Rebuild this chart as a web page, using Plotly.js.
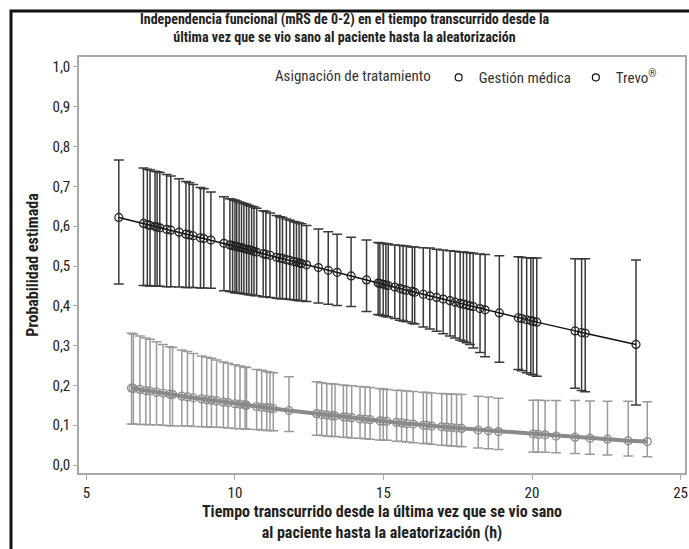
<!DOCTYPE html>
<html>
<head>
<meta charset="utf-8">
<script src="https://cdn.plot.ly/plotly-3.0.1.min.js"></script>
<style>
  html, body { margin: 0; padding: 0; background: #fff; }
  #chart { width: 689px; height: 549px; }
</style>
</head>
<body>
<div id="chart"></div>
<script>
// ---- Data ----
// Trevo (upper, black)
const trevoX = [6.09, 6.92, 7.05, 7.14, 7.31, 7.38, 7.47, 7.70, 7.84, 8.12, 8.35, 8.46, 8.59, 8.84, 8.95, 9.19, 9.63, 9.83, 9.92, 10.0,
  10.06, 10.14, 10.22, 10.30, 10.39, 10.47, 10.56, 10.64, 10.73, 10.95, 11.04, 11.18, 11.40, 11.51, 11.60, 11.73, 11.85, 11.98, 12.07, 12.16,
  12.24, 12.41, 12.81, 13.14, 13.44, 13.91, 14.43, 14.82, 14.88, 14.99, 15.08, 15.16, 15.38, 15.55, 15.66, 15.77, 15.97, 16.05, 16.34, 16.56,
  16.79, 17.01, 17.24, 17.41, 17.58, 17.69, 17.80, 17.91, 18.02, 18.25, 18.42, 18.90, 19.54, 19.65, 19.82, 19.96, 20.04, 20.16, 21.45, 21.67,
  21.79, 23.50];
const trevoY = [0.622, 0.607, 0.604, 0.602, 0.599, 0.598, 0.596, 0.592, 0.590, 0.585, 0.580, 0.578, 0.576, 0.571, 0.569, 0.565, 0.557, 0.553, 0.551, 0.550,
  0.549, 0.547, 0.546, 0.544, 0.542, 0.541, 0.539, 0.537, 0.535, 0.531, 0.529, 0.527, 0.522, 0.520, 0.519, 0.516, 0.514, 0.511, 0.510, 0.508,
  0.506, 0.503, 0.496, 0.489, 0.484, 0.475, 0.465, 0.457, 0.456, 0.454, 0.452, 0.451, 0.447, 0.444, 0.441, 0.439, 0.436, 0.434, 0.429, 0.425,
  0.421, 0.417, 0.413, 0.409, 0.406, 0.404, 0.402, 0.400, 0.398, 0.393, 0.390, 0.382, 0.370, 0.368, 0.365, 0.363, 0.361, 0.359, 0.337, 0.333,
  0.331, 0.303];
const trevoHi = [0.766, 0.746, 0.743, 0.741, 0.738, 0.737, 0.735, 0.730, 0.726, 0.719, 0.712, 0.709, 0.705, 0.697, 0.694, 0.686, 0.674, 0.669, 0.667, 0.665,
  0.663, 0.661, 0.659, 0.657, 0.655, 0.652, 0.650, 0.648, 0.645, 0.639, 0.637, 0.633, 0.627, 0.624, 0.622, 0.618, 0.615, 0.612, 0.610, 0.608,
  0.606, 0.602, 0.593, 0.586, 0.580, 0.572, 0.565, 0.559, 0.558, 0.557, 0.556, 0.555, 0.553, 0.552, 0.551, 0.550, 0.548, 0.548, 0.546, 0.545,
  0.542, 0.540, 0.538, 0.537, 0.535, 0.535, 0.534, 0.533, 0.532, 0.530, 0.529, 0.526, 0.523, 0.522, 0.521, 0.520, 0.520, 0.520, 0.518, 0.518,
  0.518, 0.515];
const trevoLo = [0.455, 0.451, 0.451, 0.450, 0.450, 0.449, 0.449, 0.448, 0.448, 0.447, 0.446, 0.446, 0.446, 0.445, 0.445, 0.444, 0.438, 0.436, 0.435, 0.433,
  0.433, 0.432, 0.431, 0.430, 0.429, 0.428, 0.427, 0.426, 0.425, 0.423, 0.423, 0.421, 0.419, 0.418, 0.418, 0.417, 0.416, 0.415, 0.414, 0.413,
  0.413, 0.411, 0.407, 0.404, 0.401, 0.398, 0.386, 0.378, 0.377, 0.375, 0.373, 0.372, 0.368, 0.364, 0.362, 0.360, 0.356, 0.354, 0.347, 0.342,
  0.336, 0.330, 0.324, 0.319, 0.314, 0.311, 0.307, 0.303, 0.294, 0.283, 0.272, 0.258, 0.240, 0.237, 0.232, 0.228, 0.226, 0.223, 0.193, 0.187,
  0.184, 0.151];

// Gestión médica (lower, gray)
const medX = [6.52, 6.58, 6.80, 7.00, 7.14, 7.36, 7.58, 7.81, 7.90, 8.21, 8.40, 8.60, 8.88, 9.05, 9.21, 9.38, 9.61, 9.77, 10.0, 10.17,
  10.34, 10.39, 10.73, 10.90, 11.07, 11.18, 11.29, 11.82, 12.75, 12.92, 13.09, 13.26, 13.37, 13.65, 13.76, 13.93, 14.21, 14.38, 14.55, 14.88,
  14.99, 15.11, 15.44, 15.61, 15.78, 16.00, 16.34, 16.45, 16.62, 16.96, 17.13, 17.29, 17.46, 17.63, 18.19, 18.53, 18.87, 20.04, 20.21, 20.44,
  20.81, 21.45, 21.95, 22.54, 23.24, 23.88];
const medY = [0.193, 0.192, 0.190, 0.187, 0.186, 0.183, 0.181, 0.178, 0.177, 0.173, 0.171, 0.169, 0.166, 0.164, 0.163, 0.161, 0.158, 0.157, 0.154, 0.153,
  0.151, 0.150, 0.147, 0.145, 0.144, 0.143, 0.142, 0.137, 0.129, 0.127, 0.126, 0.124, 0.123, 0.121, 0.120, 0.119, 0.116, 0.115, 0.114, 0.111,
  0.110, 0.110, 0.107, 0.106, 0.104, 0.103, 0.100, 0.100, 0.098, 0.096, 0.095, 0.094, 0.093, 0.092, 0.088, 0.086, 0.084, 0.078, 0.077, 0.076,
  0.073, 0.070, 0.067, 0.065, 0.061, 0.059];
const medHi = [0.331, 0.329, 0.324, 0.319, 0.316, 0.310, 0.303, 0.297, 0.295, 0.289, 0.285, 0.280, 0.274, 0.271, 0.268, 0.264, 0.259, 0.256, 0.252, 0.249,
  0.246, 0.245, 0.240, 0.238, 0.235, 0.233, 0.232, 0.222, 0.209, 0.207, 0.205, 0.204, 0.203, 0.201, 0.200, 0.199, 0.197, 0.196, 0.195, 0.192,
  0.191, 0.190, 0.188, 0.187, 0.186, 0.185, 0.183, 0.182, 0.181, 0.180, 0.179, 0.178, 0.178, 0.177, 0.173, 0.171, 0.168, 0.163, 0.163, 0.162,
  0.162, 0.162, 0.161, 0.160, 0.160, 0.159];
const medLo = [0.103, 0.103, 0.102, 0.102, 0.101, 0.101, 0.100, 0.099, 0.099, 0.098, 0.098, 0.097, 0.096, 0.096, 0.095, 0.095, 0.094, 0.093, 0.092, 0.091,
  0.091, 0.090, 0.089, 0.088, 0.087, 0.087, 0.086, 0.084, 0.075, 0.074, 0.073, 0.072, 0.072, 0.070, 0.069, 0.068, 0.067, 0.066, 0.065, 0.063,
  0.062, 0.062, 0.060, 0.059, 0.058, 0.056, 0.054, 0.054, 0.052, 0.050, 0.049, 0.048, 0.047, 0.046, 0.043, 0.041, 0.039, 0.033, 0.032, 0.032,
  0.031, 0.029, 0.027, 0.025, 0.023, 0.021];

const xTicks = [5, 10, 15, 20, 25];
const seriesNames = ['Gestión médica', 'Trevo<sup>®</sup>'];
const legendTitle = 'Asignación de tratamiento';
const chartTitle = 'Independencia funcional (mRS de 0-2) en el tiempo transcurrido desde la<br>última vez que se vio sano al paciente hasta la aleatorización';
const xTitle = 'Tiempo transcurrido desde la última vez que se vio sano<br>al paciente hasta la aleatorización (h)';
const yTitle = 'Probabilidad estimada';

// ---- Build ----
const FONT = '"Roboto Condensed", "DejaVu Sans Condensed", sans-serif';
const diff = (a, b) => a.map((v, i) => +(v - b[i]).toFixed(4));

const medTrace = {
  type: 'scatter', mode: 'lines+markers', x: medX, y: medY, showlegend: false,
  line: { color: '#8a8a8a', width: 4 },
  marker: { symbol: 'circle-open', size: 8, color: '#8a8a8a', line: { width: 1.2 } },
  error_y: { type: 'data', symmetric: false, array: diff(medHi, medY), arrayminus: diff(medY, medLo),
             color: '#9a9a9a', thickness: 1.5, width: 5 }
};
const trevoTrace = {
  type: 'scatter', mode: 'lines+markers', x: trevoX, y: trevoY, showlegend: false,
  line: { color: '#111', width: 1.5 },
  marker: { symbol: 'circle-open', size: 8, color: '#222', line: { width: 1.2 } },
  error_y: { type: 'data', symmetric: false, array: diff(trevoHi, trevoY), arrayminus: diff(trevoY, trevoLo),
             color: '#3a3a3a', thickness: 1.5, width: 5 }
};
const legendTraces = seriesNames.map(n => ({
  type: 'scatter', mode: 'markers', x: [null], y: [null], name: n,
  marker: { symbol: 'circle-open', size: 7, color: '#111', line: { width: 1.2 } }
}));

const axisCommon = {
  showline: true, linecolor: '#aaaaaa', linewidth: 1.5, mirror: true,
  ticks: 'outside', ticklen: 5, tickcolor: '#aaaaaa', tickwidth: 1,
  showgrid: false, zeroline: false,
  tickfont: { family: FONT, size: 15, color: '#222' }
};
const titleFont = { family: FONT, size: 16, weight: 'bold', color: '#222' };

const layout = {
  width: 689, height: 549,
  margin: { l: 79, r: 4, t: 57, b: 76 },
  paper_bgcolor: '#fff', plot_bgcolor: '#fff',
  separators: ', ',
  font: { family: FONT, color: '#222' },
  title: {
    text: chartTitle, x: 0.5, xanchor: 'center', xref: 'container',
    y: 0.956, yref: 'container', yanchor: 'middle',
    font: { family: FONT, size: 14, weight: 'bold', color: '#222' }
  },
  xaxis: Object.assign({}, axisCommon, {
    range: [4.75, 25.15], tickvals: xTicks,
    title: { text: xTitle, standoff: 0, font: titleFont }
  }),
  yaxis: Object.assign({}, axisCommon, {
    range: [-0.02, 1.025], dtick: 0.1, tick0: 0, tickformat: '.1f', ticklen: 4,
    title: { text: yTitle, standoff: 10, font: titleFont }
  }),
  legend: {
    orientation: 'h', x: 0.962, xanchor: 'right', y: 0.99, yanchor: 'top',
    bgcolor: 'rgba(0,0,0,0)', font: { family: FONT, size: 15, color: '#333' },
    title: { text: legendTitle, side: 'left', font: { family: FONT, size: 15, color: '#333' } },
    itemwidth: 30, tracegroupgap: 0
  },
  shapes: [{
    type: 'rect', xref: 'paper', yref: 'paper',
    x0: -0.1122, x1: 1.03, y0: -0.21, y1: 1.1106,
    line: { color: '#111', width: 3 }, fillcolor: 'rgba(0,0,0,0)', layer: 'above'
  }]
};

Plotly.newPlot('chart', [medTrace, trevoTrace].concat(legendTraces), layout, { displayModeBar: false, responsive: false });
</script>
</body>
</html>
